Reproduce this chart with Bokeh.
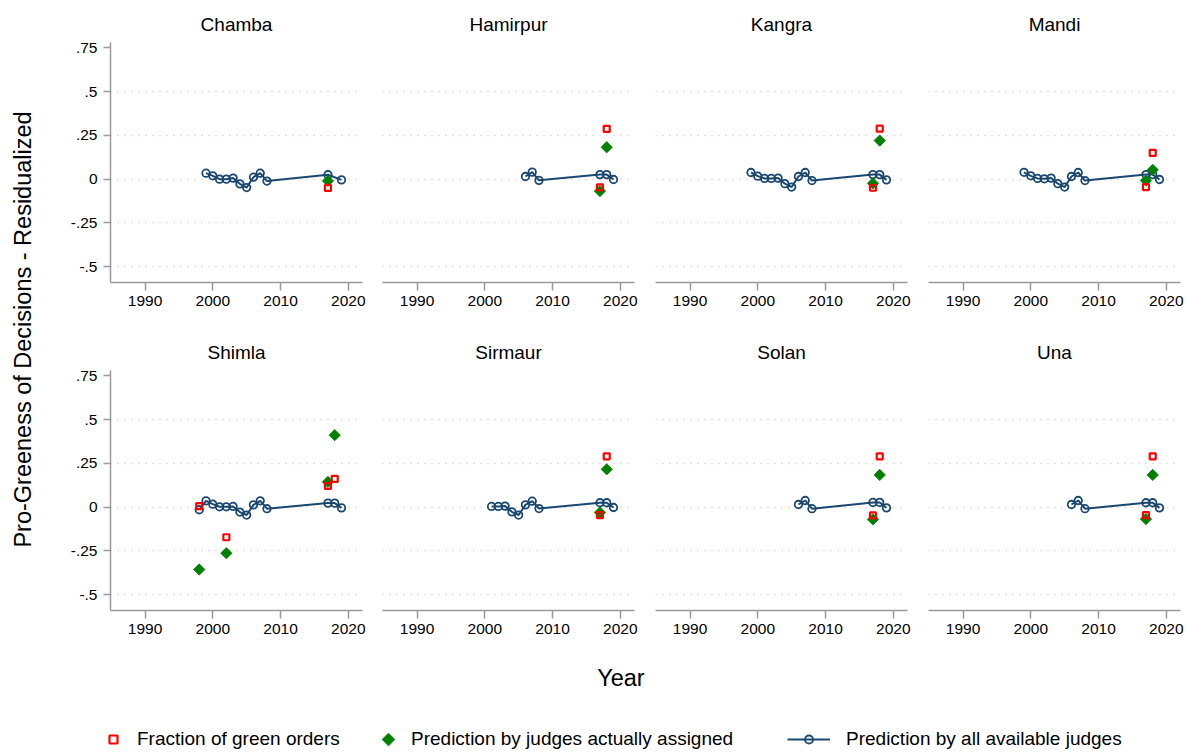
import math
from bokeh.plotting import figure
from bokeh.layouts import row, column
from bokeh.models import Range1d, FixedTicker, Legend, LegendItem, Label
from bokeh.embed import file_html
from bokeh.resources import INLINE

FONT = "Liberation Sans"
NAVY = "#1a476f"
GREEN = "#008000"
RED = "#ff0000"

DISTRICTS = ["Chamba", "Hamirpur", "Kangra", "Mandi", "Shimla", "Sirmaur", "Solan", "Una"]
X_TICKS = [1990, 2000, 2010, 2020]
Y_TICKS = [-0.5, -0.25, 0.0, 0.25, 0.5, 0.75]
Y_TICK_LABELS = ["-.5", "-.25", "0", ".25", ".5", ".75"]
GRID_TICKS = [-0.5, -0.25, 0.0, 0.25, 0.5]
LEGEND_LABELS = ["Fraction of green orders", "Prediction by judges actually assigned",
                 "Prediction by all available judges"]

# Prediction by all available judges (connected line)
CHAMBA_LINE_YEARS = [1999, 2000, 2001, 2002, 2003, 2004, 2005, 2006, 2007, 2008, 2017, 2019]
CHAMBA_LINE_VALS = [0.034, 0.019, 0.0, 0.0, 0.006, -0.027, -0.048, 0.011, 0.034, -0.011, 0.025, -0.004]
HAMIRPUR_LINE_YEARS = [2006, 2007, 2008, 2017, 2018, 2019]
HAMIRPUR_LINE_VALS = [0.015, 0.040, -0.007, 0.026, 0.026, -0.002]
KANGRA_LINE_YEARS = [1999, 2000, 2001, 2002, 2003, 2004, 2005, 2006, 2007, 2008, 2017, 2018, 2019]
KANGRA_LINE_VALS = [0.038, 0.017, 0.004, 0.004, 0.006, -0.026, -0.045, 0.015, 0.038, -0.008, 0.026, 0.026, -0.004]
MANDI_LINE_YEARS = [1999, 2000, 2001, 2002, 2003, 2004, 2005, 2006, 2007, 2008, 2017, 2018, 2019]
MANDI_LINE_VALS = [0.039, 0.019, 0.004, 0.002, 0.006, -0.026, -0.045, 0.015, 0.038, -0.008, 0.026, 0.026, -0.002]
SHIMLA_LINE_YEARS = [1998, 1999, 2000, 2001, 2002, 2003, 2004, 2005, 2006, 2007, 2008, 2017, 2018, 2019]
SHIMLA_LINE_VALS = [-0.015, 0.036, 0.017, 0.002, 0.002, 0.004, -0.028, -0.045, 0.013, 0.036, -0.009, 0.023, 0.023, -0.004]
SIRMAUR_LINE_YEARS = [2001, 2002, 2003, 2004, 2005, 2006, 2007, 2008, 2017, 2018, 2019]
SIRMAUR_LINE_VALS = [0.004, 0.004, 0.006, -0.027, -0.045, 0.013, 0.034, -0.008, 0.025, 0.025, -0.002]
SOLAN_LINE_YEARS = [2006, 2007, 2008, 2017, 2018, 2019]
SOLAN_LINE_VALS = [0.015, 0.038, -0.009, 0.027, 0.027, -0.004]
UNA_LINE_YEARS = [2006, 2007, 2008, 2017, 2018, 2019]
UNA_LINE_VALS = [0.015, 0.038, -0.009, 0.025, 0.025, -0.004]

# Fraction of green orders (hollow red squares)
CHAMBA_FRAC_YEARS = [2017]
CHAMBA_FRAC_VALS = [-0.050]
HAMIRPUR_FRAC_YEARS = [2017, 2018]
HAMIRPUR_FRAC_VALS = [-0.047, 0.287]
KANGRA_FRAC_YEARS = [2017, 2018]
KANGRA_FRAC_VALS = [-0.049, 0.288]
MANDI_FRAC_YEARS = [2017, 2018]
MANDI_FRAC_VALS = [-0.045, 0.150]
SHIMLA_FRAC_YEARS = [1998, 2002, 2017, 2018]
SHIMLA_FRAC_VALS = [0.006, -0.172, 0.121, 0.161]
SIRMAUR_FRAC_YEARS = [2017, 2018]
SIRMAUR_FRAC_VALS = [-0.045, 0.290]
SOLAN_FRAC_YEARS = [2017, 2018]
SOLAN_FRAC_VALS = [-0.047, 0.290]
UNA_FRAC_YEARS = [2017, 2018]
UNA_FRAC_VALS = [-0.045, 0.290]

# Prediction by judges actually assigned (green diamonds)
CHAMBA_ASG_YEARS = [2017]
CHAMBA_ASG_VALS = [-0.010]
HAMIRPUR_ASG_YEARS = [2017, 2018]
HAMIRPUR_ASG_VALS = [-0.068, 0.182]
KANGRA_ASG_YEARS = [2017, 2018]
KANGRA_ASG_VALS = [-0.024, 0.220]
MANDI_ASG_YEARS = [2017, 2018]
MANDI_ASG_VALS = [-0.008, 0.053]
SHIMLA_ASG_YEARS = [1998, 2002, 2017, 2018]
SHIMLA_ASG_VALS = [-0.356, -0.263, 0.144, 0.411]
SIRMAUR_ASG_YEARS = [2017, 2018]
SIRMAUR_ASG_VALS = [-0.030, 0.216]
SOLAN_ASG_YEARS = [2017, 2018]
SOLAN_ASG_VALS = [-0.070, 0.184]
UNA_ASG_YEARS = [2017, 2018]
UNA_ASG_VALS = [-0.068, 0.184]

PANEL_DATA = [
    (CHAMBA_LINE_YEARS, CHAMBA_LINE_VALS, CHAMBA_FRAC_YEARS, CHAMBA_FRAC_VALS, CHAMBA_ASG_YEARS, CHAMBA_ASG_VALS),
    (HAMIRPUR_LINE_YEARS, HAMIRPUR_LINE_VALS, HAMIRPUR_FRAC_YEARS, HAMIRPUR_FRAC_VALS, HAMIRPUR_ASG_YEARS, HAMIRPUR_ASG_VALS),
    (KANGRA_LINE_YEARS, KANGRA_LINE_VALS, KANGRA_FRAC_YEARS, KANGRA_FRAC_VALS, KANGRA_ASG_YEARS, KANGRA_ASG_VALS),
    (MANDI_LINE_YEARS, MANDI_LINE_VALS, MANDI_FRAC_YEARS, MANDI_FRAC_VALS, MANDI_ASG_YEARS, MANDI_ASG_VALS),
    (SHIMLA_LINE_YEARS, SHIMLA_LINE_VALS, SHIMLA_FRAC_YEARS, SHIMLA_FRAC_VALS, SHIMLA_ASG_YEARS, SHIMLA_ASG_VALS),
    (SIRMAUR_LINE_YEARS, SIRMAUR_LINE_VALS, SIRMAUR_FRAC_YEARS, SIRMAUR_FRAC_VALS, SIRMAUR_ASG_YEARS, SIRMAUR_ASG_VALS),
    (SOLAN_LINE_YEARS, SOLAN_LINE_VALS, SOLAN_FRAC_YEARS, SOLAN_FRAC_VALS, SOLAN_ASG_YEARS, SOLAN_ASG_VALS),
    (UNA_LINE_YEARS, UNA_LINE_VALS, UNA_FRAC_YEARS, UNA_FRAC_VALS, UNA_ASG_YEARS, UNA_ASG_VALS),
]

AXIS_COLOR = "#9a9a9a"
BORDER_LEFT = [70, 10, 11, 11]
BORDER_RIGHT = [10, 10, 10, 4]
DIAMOND_ANGLE = math.pi / 4


def make_panel(idx):
    name = DISTRICTS[idx]
    r, c = divmod(idx, 4)
    ly, lv, fy, fv, ay, av = PANEL_DATA[idx]
    p = figure(
        frame_width=252, frame_height=240,
        min_border_left=BORDER_LEFT[c],
        min_border_right=BORDER_RIGHT[c],
        min_border_top=42,
        min_border_bottom=46,
        x_range=Range1d(1984.9, 2022.1), y_range=Range1d(-0.59, 0.78),
        y_axis_location="left" if c == 0 else None,
        output_backend="svg", toolbar_location=None, title=name,
    )
    p.title.align = "center"
    p.title.text_font = FONT
    p.title.text_font_size = "19px"
    p.title.text_font_style = "normal"
    p.title.text_color = "#000000"
    p.title.standoff = 16
    p.outline_line_color = None
    p.background_fill_color = "white"
    p.border_fill_color = "white"

    p.xgrid.visible = False
    p.ygrid.ticker = FixedTicker(ticks=GRID_TICKS)
    p.ygrid.grid_line_color = "#c4c4c4"
    p.ygrid.grid_line_width = 1.5
    p.ygrid.grid_line_dash = "1 6"

    xa = p.xaxis[0]
    xa.ticker = FixedTicker(ticks=X_TICKS)
    xa.axis_line_color = AXIS_COLOR
    xa.axis_line_width = 1.5
    xa.major_tick_line_color = AXIS_COLOR
    xa.major_tick_line_width = 1.5
    xa.major_tick_out = 8
    xa.major_tick_in = 0
    xa.minor_tick_line_color = None
    xa.major_label_standoff = 5
    xa.major_label_text_font = FONT
    xa.major_label_text_font_size = "15.5px"
    xa.major_label_text_color = "#000000"

    if c == 0:
        ya = p.yaxis[0]
        ya.ticker = FixedTicker(ticks=Y_TICKS)
        ya.major_label_overrides = {t: s for t, s in zip(Y_TICKS, Y_TICK_LABELS)}
        ya.axis_line_color = AXIS_COLOR
        ya.axis_line_width = 1.5
        ya.major_tick_line_color = AXIS_COLOR
        ya.major_tick_line_width = 1.5
        ya.major_tick_out = 7
        ya.major_tick_in = 0
        ya.minor_tick_line_color = None
        ya.major_label_standoff = 6
        ya.major_label_text_font = FONT
        ya.major_label_text_font_size = "15.5px"
        ya.major_label_text_color = "#000000"

    p.line(ly, lv, line_color=NAVY, line_width=2)
    p.scatter(ly, lv, marker="circle", size=7.5, line_color=NAVY, line_width=1.8, fill_color=None)
    p.scatter(ay, av, marker="square", angle=DIAMOND_ANGLE, size=8, fill_color=GREEN,
              line_color=GREEN, line_width=0.8)
    p.scatter(fy, fv, marker="square", size=6, fill_color=None, line_color=RED, line_width=2.2)
    return p


panels = [make_panel(i) for i in range(8)]
top_row = row(*panels[:4])
bottom_row = row(*panels[4:])

# y-axis title
ylab = figure(width=40, height=656, x_range=Range1d(0, 1), y_range=Range1d(0, 1),
              min_border=0, output_backend="svg", toolbar_location=None)
ylab.axis.visible = False
ylab.grid.visible = False
ylab.outline_line_color = None
ylab.add_layout(Label(x=0.55, y=0.4985, text="Pro-Greeness of Decisions - Residualized",
                      angle=math.pi / 2, text_align="center", text_baseline="middle",
                      text_font=FONT, text_font_size="23.5px", text_color="#000000"))

# x-axis title
xlab = figure(width=1184, height=44, x_range=Range1d(0, 1), y_range=Range1d(0, 1),
              min_border=0, output_backend="svg", toolbar_location=None)
xlab.axis.visible = False
xlab.grid.visible = False
xlab.outline_line_color = None
xlab.add_layout(Label(x=0.524, y=0.52, text="Year", text_align="center", text_baseline="middle",
                      text_font=FONT, text_font_size="23.5px", text_color="#000000"))

# legend strip: range in pixel units so that keys can be placed on the layout
LEG_W, LEG_H = 1184, 54
leg = figure(width=LEG_W, height=LEG_H, x_range=Range1d(0, LEG_W), y_range=Range1d(0, LEG_H),
             min_border=0, output_backend="svg", toolbar_location=None)
leg.axis.visible = False
leg.grid.visible = False
leg.outline_line_color = None
# placeholder renderers outside the visible range; only their legend keys show
r_frac = leg.scatter([-9], [-9], marker="square", size=6, fill_color=None, line_color=RED, line_width=2.2)
r_asg = leg.scatter([-9], [-9], marker="square", size=6, fill_alpha=0, line_alpha=0)
r_line = leg.line([-9, -8], [-9, -9], line_color=NAVY, line_width=2)
r_circ = leg.scatter([-9], [-9], marker="circle", size=7, line_color=NAVY, line_width=1.8, fill_color=None)

legend_specs = [
    ([r_frac], LEGEND_LABELS[0], 103, 20, 14),
    ([r_asg], LEGEND_LABELS[1], 378, 20, 13),
    ([r_line, r_circ], LEGEND_LABELS[2], 787, 43, 16),
]
for rends, lab, x0, gw, so in legend_specs:
    lg = Legend(items=[LegendItem(label=lab, renderers=rends)], location=(x0, 4),
                orientation="horizontal", padding=0, margin=0, spacing=0,
                glyph_width=gw, glyph_height=20, label_height=20, label_standoff=so,
                label_text_font=FONT, label_text_font_size="19px", label_text_color="#000000",
                border_line_color=None, background_fill_alpha=0)
    leg.add_layout(lg, "center")

# rotated-square key for the "assigned judges" legend entry (legend keys ignore marker angle)
legend_key2_x = 378 + 20 / 2
legend_key2_y = 4 + 11
leg.scatter([legend_key2_x], [legend_key2_y], marker="square", angle=DIAMOND_ANGLE, size=9,
            fill_color=GREEN, line_color=GREEN, line_width=0.8)

layout = column(row(ylab, column(top_row, bottom_row)), xlab, leg)

open("out.html", "w").write(file_html(layout, INLINE))
